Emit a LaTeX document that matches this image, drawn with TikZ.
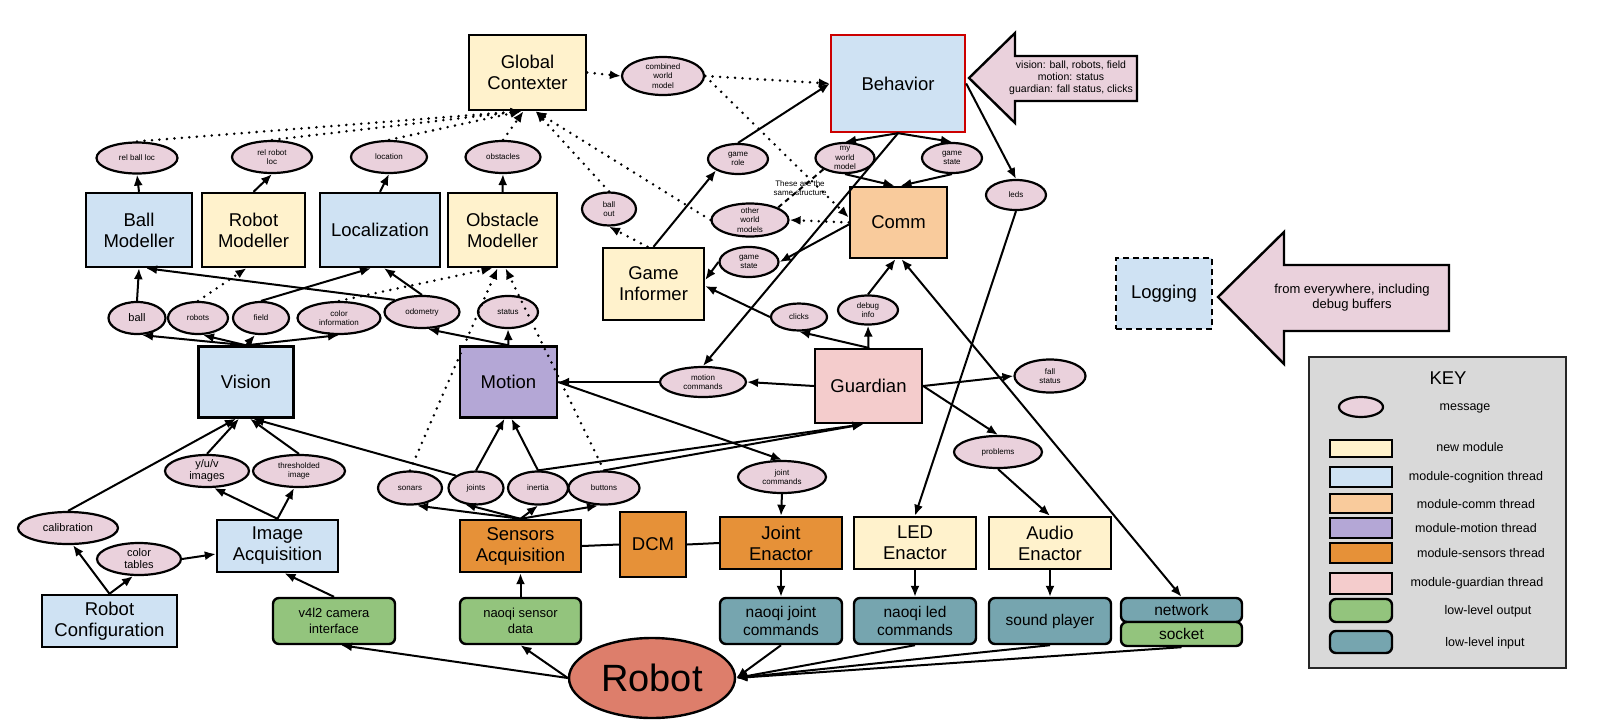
\documentclass[tikz,border=0pt]{standalone}
\usepackage{fontspec}
\setmainfont{Liberation Sans}
\usepackage{tikz}
\usetikzlibrary{shapes.geometric,arrows.meta,calc}

\definecolor{msgpink}{HTML}{EAD1DC}
\definecolor{newmod}{HTML}{FFF2CC}
\definecolor{cogblue}{HTML}{CFE2F3}
\definecolor{commorange}{HTML}{F9CB9C}
\definecolor{motionpurple}{HTML}{B4A7D6}
\definecolor{sensorange}{HTML}{E69138}
\definecolor{guardpink}{HTML}{F4CCCC}
\definecolor{outgreen}{HTML}{93C47D}
\definecolor{inteal}{HTML}{76A5AF}
\definecolor{robotred}{HTML}{DD7E6B}
\definecolor{keygray}{HTML}{D9D9D9}

\newcommand{\boxfont}{\fontsize{18.5}{21}\selectfont}
\newcommand{\msgfont}{\fontsize{8}{9.3}\selectfont}
\newcommand{\midfont}{\fontsize{11}{12}\selectfont}
\newcommand{\lowfont}{\fontsize{13}{15.5}\selectfont}
\newcommand{\lowinfont}{\fontsize{15.5}{18}\selectfont}
\newcommand{\robotfont}{\fontsize{38}{40}\selectfont}
\newcommand{\keyfont}{\fontsize{12.5}{14}\selectfont}
\newcommand{\notefont}{\fontsize{13}{15}\selectfont}
\newcommand{\tipfont}{\fontsize{10.5}{12}\selectfont}

\begin{document}
\begin{tikzpicture}[x=1pt, y=-1pt, every node/.style={font=\boxfont}]
\tikzstyle{module} = [rectangle, draw=black, line width=2.4pt, align=center, inner sep=1pt]
\tikzstyle{newm} = [module, fill=newmod]
\tikzstyle{cog} = [module, fill=cogblue]
\tikzstyle{comm} = [module, fill=commorange]
\tikzstyle{mot} = [module, fill=motionpurple]
\tikzstyle{sens} = [module, fill=sensorange]
\tikzstyle{guard} = [module, fill=guardpink]
\tikzstyle{lowout} = [module, rounded corners=6pt, fill=outgreen, font=\lowfont]
\tikzstyle{lowin} = [module, rounded corners=6pt, fill=inteal, font=\lowinfont]
\tikzstyle{msg} = [ellipse, draw=black, line width=2.2pt, fill=msgpink, align=center, inner sep=-2pt, font=\msgfont]
\tikzstyle{bigarrow} = [draw=black, line width=2.4pt, fill=msgpink, line join=miter]
\tikzstyle{arrow} = [line width=2pt, ->, >={Latex[length=11pt,width=9pt]}]
\tikzstyle{dotarrow} = [arrow, line width=2.8pt, line cap=round, dash pattern=on 0pt off 7.5pt]
\tikzstyle{link} = [line width=2pt]

\useasboundingbox (0,0) rectangle (1599,726);

% world model side
\node (gc) [newm, minimum width=117, minimum height=75] at (527.5,72.5) {Global\\Contexter};
\node (cwm) [msg, minimum width=82, minimum height=38] at (663,76) {combined\\world\\model};
\node (behavior) [cog, draw=red!80!black, minimum width=134, minimum height=97] at (898,83.5) {Behavior};

\node (relball) [msg, minimum width=81, minimum height=31] at (137,158) {rel ball loc};
\node (relrobot) [msg, minimum width=80, minimum height=32] at (272,157) {rel robot\\loc};
\node (location) [msg, minimum width=76, minimum height=32] at (389,157) {location};
\node (obstacles) [msg, minimum width=75, minimum height=32] at (503,157) {obstacles};

\node (ballmod) [cog, minimum width=106, minimum height=74] at (139,230) {Ball\\Modeller};
\node (robotmod) [newm, minimum width=103, minimum height=74] at (253.5,230) {Robot\\Modeller};
\node (loc) [cog, minimum width=120, minimum height=74] at (380,230) {Localization};
\node (obsmod) [newm, minimum width=109, minimum height=74] at (502.5,230) {Obstacle\\Modeller};

\node (ball) [msg, font=\midfont, minimum width=57, minimum height=32] at (137,318) {ball};
\node (robots) [msg, minimum width=60, minimum height=32] at (198,318) {robots};
\node (field) [msg, minimum width=56, minimum height=32] at (261,318) {field};
\node (colorinfo) [msg, minimum width=83, minimum height=32] at (339,318) {color\\information};
\node (odometry) [msg, minimum width=75, minimum height=32] at (422,312) {odometry};
\node (status) [msg, minimum width=60, minimum height=32] at (508,312) {status};

\node (vision) [cog, minimum width=95, minimum height=71] at (246,382) {Vision};
\node (motion) [mot, minimum width=97, minimum height=71] at (508.5,382) {Motion};

% behaviour and comm
\node (gamerole) [msg, minimum width=60, minimum height=30] at (738,159) {game\\role};
\node (mywm) [msg, minimum width=59, minimum height=30] at (845,158) {my\\world\\model};
\node (gsu) [msg, minimum width=60, minimum height=30] at (952,158) {game\\state};
\node (leds) [msg, minimum width=60, minimum height=30] at (1016,195) {leds};
\node (ballout) [msg, minimum width=54, minimum height=33] at (609,209) {ball\\out};
\node (owm) [msg, minimum width=77, minimum height=33] at (750,220) {other\\world\\models};
\node (comm) [comm, minimum width=97, minimum height=71] at (898.5,222.5) {Comm};
\node (gsl) [msg, minimum width=59, minimum height=30] at (749,262) {game\\state};
\node (gi) [newm, minimum width=101, minimum height=72] at (653.5,284) {Game\\Informer};
\node (clicks) [msg, minimum width=56, minimum height=27] at (799,317) {clicks};
\node (debug) [msg, minimum width=60, minimum height=29] at (868,310) {debug\\info};
\node (motcmd) [msg, minimum width=86, minimum height=30] at (703,382) {motion\\commands};
\node (guardian) [guard, minimum width=107, minimum height=74] at (868.5,386) {Guardian};
\node (fall) [msg, minimum width=71, minimum height=33] at (1050,376) {fall\\status};
\node (problems) [msg, minimum width=88, minimum height=32] at (998,452) {problems};
\node (jc) [msg, minimum width=88, minimum height=32] at (782,477) {joint\\commands};

% sensors
\node (sonars) [msg, minimum width=64, minimum height=33] at (410,488) {sonars};
\node (joints) [msg, minimum width=55, minimum height=33] at (476,488) {joints};
\node (inertia) [msg, minimum width=60, minimum height=33] at (538,488) {inertia};
\node (buttons) [msg, minimum width=71, minimum height=33] at (604,488) {buttons};

% image pipeline
\node (yuv) [msg, font=\midfont, minimum width=84, minimum height=32] at (207,471) {y/u/v\\images};
\node (thresh) [msg, minimum width=92, minimum height=32] at (299,471) {thresholded\\image};
\node (calib) [msg, font=\midfont, minimum width=100, minimum height=32] at (68,528) {calibration};
\node (ctables) [msg, font=\midfont, minimum width=84, minimum height=32] at (139,559) {color\\tables};
\node (imgacq) [cog, minimum width=121, minimum height=52] at (277.5,546) {Image\\Acquisition};
\node (robotcfg) [cog, minimum width=135, minimum height=52] at (109.5,621) {Robot\\Configuration};
\node (v4l2) [lowout, minimum width=122, minimum height=46] at (334,621) {v4l2 camera\\interface};

\node (sensacq) [sens, minimum width=121, minimum height=52] at (520.5,546) {Sensors\\Acquisition};
\node (nsd) [lowout, minimum width=121, minimum height=46] at (520.5,621) {naoqi sensor\\data};
\node (dcm) [sens, minimum width=66, minimum height=65] at (653,544.5) {DCM};
\node (jointen) [sens, minimum width=122, minimum height=52] at (781,543) {Joint\\Enactor};
\node (leden) [newm, minimum width=122, minimum height=52] at (915,543) {LED\\Enactor};
\node (audioen) [newm, minimum width=122, minimum height=52] at (1050,543) {Audio\\Enactor};
\node (njc) [lowin, minimum width=122, minimum height=46] at (781,621) {naoqi joint\\commands};
\node (nlc) [lowin, minimum width=122, minimum height=46] at (915,621) {naoqi led\\commands};
\node (sp) [lowin, minimum width=122, minimum height=46] at (1050,621) {sound player};
\node (network) [lowin, minimum width=121, minimum height=24] at (1181.5,610) {network};
\node (socket) [lowout, font=\lowinfont, minimum width=121, minimum height=24] at (1181.5,634) {socket};
\node (robot) [ellipse, draw=black, line width=2.4pt, fill=robotred, font=\robotfont, minimum width=166, minimum height=80] at (652,678) {Robot};

% notes
\draw[bigarrow] (969,78) -- (1015,33) -- (1015,56) -- (1137,56) -- (1137,101) -- (1015,101) -- (1015,123) -- cycle;
\node (behaviornote) [font=\tipfont, align=center] at (1071,78) {vision: ball, robots, field\\motion: status\\guardian: fall status, clicks};
\node (logging) [cog, dashed, dash pattern=on 6pt off 4pt, minimum width=96, minimum height=71] at (1164,293.5) {Logging};
\draw[bigarrow] (1218,297) -- (1284,232) -- (1284,265) -- (1449,265) -- (1449,331) -- (1284,331) -- (1284,364) -- cycle;
\node (loggingnote) [font=\notefont, align=center] at (1352,298) {from everywhere, including\\debug buffers};

% key
\node (keybox) [rectangle, draw=black!85, line width=2pt, fill=keygray, minimum width=257, minimum height=311] at (1437.5,512.5) {};
\node (keytitle) at (1448,378) {KEY};
\node (keymsg) [msg, minimum width=44, minimum height=20] at (1361,407) {};
\node (keymsgtext) [font=\keyfont] at (1465,408) {message};
\node (keynew) [newm, minimum width=62, minimum height=17] at (1361,448.5) {};
\node (keynewtext) [font=\keyfont] at (1470,447) {new module};
\node (keycog) [cog, minimum width=62, minimum height=20] at (1361,477) {};
\node (keycogtext) [font=\keyfont] at (1476,477) {module-cognition thread};
\node (keycomm) [comm, minimum width=62, minimum height=19] at (1361,503.5) {};
\node (keycommtext) [font=\keyfont] at (1476,504) {module-comm thread};
\node (keymot) [mot, minimum width=62, minimum height=20] at (1361,528) {};
\node (keymottext) [font=\keyfont] at (1476,528) {module-motion thread};
\node (keysens) [sens, minimum width=62, minimum height=20] at (1361,553) {};
\node (keysenstext) [font=\keyfont] at (1481,553) {module-sensors thread};
\node (keyguard) [guard, minimum width=62, minimum height=21] at (1361,583.5) {};
\node (keyguardtext) [font=\keyfont] at (1477,583) {module-guardian thread};
\node (keyout) [lowout, minimum width=62, minimum height=23] at (1361,610.5) {};
\node (keyouttext) [font=\keyfont] at (1488,611) {low-level output};
\node (keyin) [lowin, minimum width=62, minimum height=22] at (1361,642) {};
\node (keyintext) [font=\keyfont] at (1485,643) {low-level input};

% dotted flows
\draw[dotarrow] (relball.north) -- ([xshift=-6]gc.south);
\draw[dotarrow] (relrobot.north) -- ([xshift=-6]gc.south);
\draw[dotarrow] (location.north) -- ([xshift=-6]gc.south);
\draw[dotarrow] (obstacles.north) -- ([xshift=-4]gc.south);
\draw[dotarrow] (ballout.north) -- ([xshift=8]gc.south);
\draw[dotarrow] (owm.west) -- ([xshift=8]gc.south);
\draw[dotarrow] (gc.east) -- (cwm.west);
\draw[dotarrow] (cwm.east) -- (behavior.west);
\draw[dotarrow] (cwm.east) -- ([yshift=5]comm.west);
\draw[dotarrow] (comm.west) -- (owm.east);
\draw[dotarrow] ([xshift=-6]gi.north) -- (ballout.south);
\draw[dotarrow] (robots.north) -- ([xshift=-7]robotmod.south);
\draw[dotarrow] (colorinfo.north) -- ([xshift=-10]obsmod.south);
\draw[dotarrow] (sonars.north) -- ([xshift=-5]obsmod.south);
\draw[dotarrow] (buttons.north) -- ([xshift=3]obsmod.south);

% modellers
\draw[arrow] (ballmod.north) -- (relball.south);
\draw[arrow] (robotmod.north) -- (relrobot.south);
\draw[arrow] (loc.north) -- (location.south);
\draw[arrow] (obsmod.north) -- (obstacles.south);
\draw[arrow] (ball.north) -- (ballmod.south);
\draw[arrow] (odometry.north west) -- ([xshift=7]ballmod.south);
\draw[arrow] (field.north) -- ([xshift=-9]loc.south);
\draw[arrow] (odometry.north) -- ([xshift=4]loc.south);
\draw[arrow] (vision.north) -- ([xshift=5]ball.south);
\draw[arrow] (vision.north) -- ([xshift=5]robots.south);
\draw[arrow] (vision.north) -- ([xshift=-6]field.south);
\draw[arrow] (vision.north) -- (colorinfo.south);
\draw[arrow] (motion.north) -- ([xshift=6]odometry.south);
\draw[arrow] (motion.north) -- (status.south);

% behavior, comm, guardian
\draw[arrow] (gi.north) -- (gamerole.south west);
\draw[arrow] (gamerole.north) -- (behavior.west);
\draw[arrow] (behavior.south) -- (mywm.north);
\draw[arrow] (behavior.south) -- (gsu.north);
\draw[arrow] (mywm.south) -- ([xshift=-4]comm.north);
\draw[arrow] (gsu.south) -- ([xshift=2]comm.north);
\draw[link, dashed, dash pattern=on 5pt off 4pt] (mywm.south west) -- (owm.north east);
\node (samenote) [font=\msgfont, align=center, inner sep=0pt] at (800,188) {These are the\\same structure};
\draw[arrow] (behavior.east) -- (leds.north);
\draw[arrow] (leds.south) -- (leden.north);
\draw[arrow] (behavior.south) -- (motcmd.north);
\draw[arrow] ([yshift=-2]comm.west) -- (gsl.east);
\draw[arrow] (gsl.west) -- ([yshift=4]gi.east);
\draw[arrow] (clicks.west) -- ([yshift=-2]gi.east);
\draw[arrow] (guardian.north) -- (clicks.south);
\draw[arrow] (guardian.north) -- (debug.south);
\draw[arrow] (debug.north) -- ([xshift=-3]comm.south);
\draw[arrow, <->] (network.north) -- ([xshift=3]comm.south);
\draw[arrow] (guardian.west) -- (motcmd.east);
\draw[arrow] (motcmd.west) -- (motion.east);
\draw[arrow] (guardian.east) -- (fall.west);
\draw[arrow] (guardian.east) -- (problems.north);
\draw[arrow] (problems.south) -- (audioen.north);
\draw[arrow] (motion.east) -- (jc.north);
\draw[arrow] (jc.south) -- (jointen.north);

% sensors
\draw[arrow] (inertia.north) -- ([xshift=-5]guardian.south);
\draw[arrow] (buttons.north) -- ([xshift=-5]guardian.south);
\draw[arrow] (joints.north) -- ([xshift=-4]motion.south);
\draw[arrow] (inertia.north) -- ([xshift=3]motion.south);
\draw[arrow] (joints.north west) -- ([xshift=7]vision.south);
\draw[arrow] (sensacq.north) -- ([xshift=7]sonars.south);
\draw[arrow] (sensacq.north) -- (joints.235);
\draw[arrow] (sensacq.north) -- (inertia.south);
\draw[arrow] (sensacq.north) -- ([xshift=-6]buttons.south);

% images
\draw[arrow] (yuv.north) -- ([xshift=-7]vision.south);
\draw[arrow] (thresh.north) -- ([xshift=4]vision.south);
\draw[arrow] (calib.north) -- ([xshift=-10]vision.south);
\draw[arrow] (imgacq.north) -- ([xshift=7]yuv.south);
\draw[arrow] (imgacq.north) -- ([xshift=-5]thresh.south);
\draw[arrow] (robotcfg.north) -- ([xshift=5]calib.south);
\draw[arrow] (robotcfg.north) -- ([xshift=-6]ctables.south);
\draw[arrow] (ctables.east) -- ([yshift=-8]imgacq.west);
\draw[arrow] (v4l2.north) -- ([xshift=7]imgacq.south);
\draw[arrow] (nsd.north) -- (sensacq.south);
\draw[link] (sensacq.east) -- (dcm.west);
\draw[link] (dcm.east) -- (jointen.west);
\draw[arrow] (jointen.south) -- (njc.north);
\draw[arrow] (leden.south) -- (nlc.north);
\draw[arrow] (audioen.south) -- (sp.north);

% robot
\draw[arrow] (robot.west) -- ([xshift=7]v4l2.south);
\draw[arrow] (robot.west) -- (nsd.south);
\draw[arrow] (njc.south) -- (robot.east);
\draw[arrow] (nlc.south) -- (robot.east);
\draw[arrow] (sp.south) -- (robot.east);
\draw[arrow] (socket.south) -- (robot.east);
\end{tikzpicture}
\end{document}
